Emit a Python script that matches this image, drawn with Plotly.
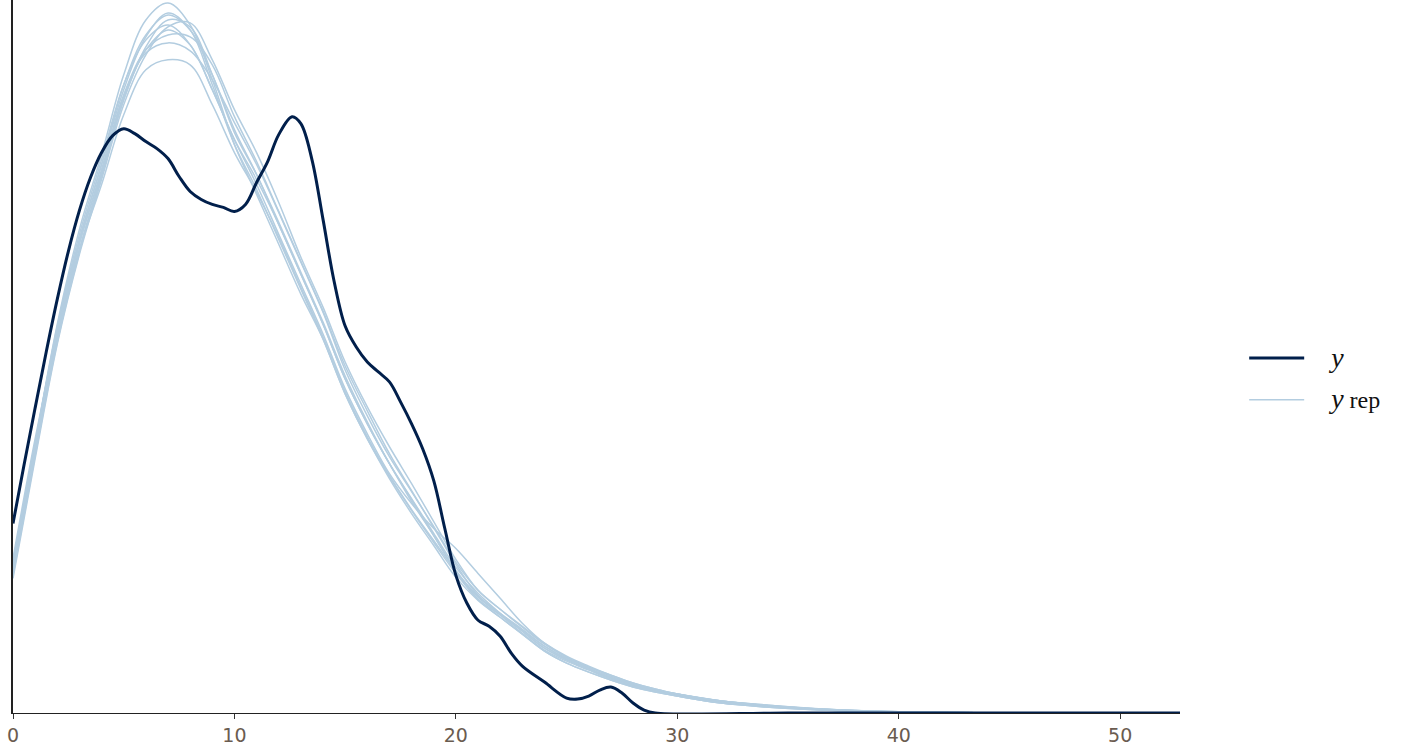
import plotly.graph_objects as go

# observed y density (x, density x1000)
x_obs = [0, 0.5, 1, 1.5, 2, 2.5, 3, 3.5, 4, 4.5, 5, 5.5, 6, 6.5, 7, 7.5, 8, 8.5, 9, 9.5, 10,
         10.5, 11, 11.5, 12, 12.6, 13, 13.5, 14, 14.5, 15, 15.5, 16, 16.5, 17, 17.5, 18,
         18.5, 19, 19.5, 20, 20.5, 21, 21.5, 22, 22.5, 23, 24, 25, 25.5, 26, 26.5, 27,
         27.5, 28, 28.5, 29, 35, 40, 45, 50, 52.7]
d_obs = [19.0, 24.9, 30.6, 36.2, 41.5, 46.3, 50.4, 53.7, 56.2, 57.9, 58.6, 58.1, 57.3, 56.6, 55.6,
         53.8, 52.3, 51.5, 51.0, 50.7, 50.3, 51.0, 53.2, 55.3, 58.0, 59.8, 59.1, 55.5, 49.5,
         43.3, 38.8, 36.7, 35.2, 34.2, 33.2, 31.2, 29.0, 26.5, 23.3, 18.5, 13.8, 11.0, 9.3,
         8.7, 7.7, 6.0, 4.7, 3.1, 1.5, 1.4, 1.7, 2.3, 2.6, 2.0, 1.0, 0.3, 0, 0, 0, 0, 0, 0]

# replicated densities (density x1000)
x_rep = list(range(0, 31)) + [32, 34, 36, 38, 40, 42, 45]
d_rep = [
    [14, 27, 39, 48.5, 56, 64, 69.5, 71.2, 69, 63.5, 57, 52, 47, 42, 37.5, 32, 27.5, 23.5, 20, 16.8,
     13.6, 11.3, 9.6, 7.9, 6.2, 5.0, 4.1, 3.3, 2.6, 2.1, 1.7, 1.0, 0.6, 0.35, 0.2, 0.1, 0.04, 0],
    [15, 27, 38.5, 47.5, 55, 63, 68, 70, 68.5, 64, 58.5, 54, 49, 44, 39, 33.5, 29, 25, 21.5, 18,
     14.6, 12, 10, 8.2, 6.5, 5.3, 4.4, 3.5, 2.8, 2.2, 1.8, 1.1, 0.7, 0.4, 0.2, 0.1, 0.05, 0],
    [13.5, 25.5, 37, 46, 53.5, 61, 66, 68.8, 69.2, 65.5, 60.5, 56.2, 51.2, 45.7, 40.7, 35.2, 30.7, 26.7, 23, 19.2,
     15.4, 12.3, 10.4, 8.6, 6.9, 5.6, 4.6, 3.7, 2.9, 2.3, 1.9, 1.2, 0.8, 0.45, 0.25, 0.12, 0.05, 0],
    [15.5, 27.5, 38, 46.5, 53, 60, 64.5, 65.5, 65, 61, 56.2, 52.2, 47.7, 42.7, 37.7, 32.2, 27.7, 23.8, 20.4, 17.3,
     14.2, 11.6, 9.9, 8.2, 6.5, 5.4, 4.4, 3.5, 2.8, 2.3, 1.9, 1.2, 0.75, 0.45, 0.25, 0.12, 0.05, 0],
    [14, 26, 37.5, 46.5, 54, 61.5, 66.5, 68.5, 67, 62.5, 57.5, 53, 48, 43, 38, 32.5, 28, 24, 21, 18.5,
     16.5, 14, 11.5, 9, 7, 5.6, 4.5, 3.6, 2.9, 2.3, 1.8, 1.1, 0.7, 0.4, 0.2, 0.1, 0.05, 0],
    [14.8, 26.8, 38.5, 47.5, 55, 62.5, 67.8, 70.2, 68.5, 63, 57, 52.5, 47.5, 42.5, 37.5, 32, 27.5, 23.7, 20.3, 17.1,
     14.0, 11.4, 9.8, 8, 6.3, 5.2, 4.3, 3.4, 2.7, 2.2, 1.7, 1.0, 0.65, 0.38, 0.2, 0.1, 0.04, 0],
    [14.2, 26.2, 37.8, 47, 54.5, 62, 66.5, 68, 67.8, 65, 59.8, 55.3, 50.3, 45.3, 40.3, 34.8, 30.3, 26, 22.3, 18.6,
     14.9, 11.8, 10.0, 8.4, 6.7, 5.4, 4.4, 3.6, 2.9, 2.3, 1.8, 1.1, 0.7, 0.42, 0.22, 0.1, 0.05, 0],
    [15.2, 27, 38.8, 48, 55.5, 63, 67.5, 69, 67, 62.5, 57.5, 53.5, 49, 44, 39, 33.5, 29, 25, 21.2, 17.8,
     14.3, 11.7, 9.9, 8.3, 6.7, 5.5, 4.6, 3.8, 3.0, 2.4, 1.9, 1.2, 0.75, 0.45, 0.25, 0.12, 0.05, 0],
    [13.8, 25.8, 37.2, 46.2, 53.8, 61.5, 66.8, 69.5, 68.8, 64, 58.2, 54, 49.2, 44.2, 39.2, 33.8, 29.2, 25, 21.4, 17.8,
     14.2, 11.4, 9.6, 7.9, 6.2, 5.0, 4.1, 3.3, 2.6, 2.1, 1.7, 1.0, 0.6, 0.35, 0.18, 0.08, 0.04, 0],
    [14.6, 26.6, 38.2, 47.2, 54.2, 61.8, 66.2, 67.2, 66.4, 63.5, 59.2, 55, 50.2, 45.2, 40.2, 34.4, 29.8, 25.7, 22.2, 18.7,
     15.1, 12.3, 10.4, 8.7, 7.0, 5.7, 4.7, 3.8, 3.0, 2.4, 1.9, 1.2, 0.8, 0.48, 0.26, 0.13, 0.06, 0],
]

x_ticks = [0, 10, 20, 30, 40, 50]

fig = go.Figure()

for i, d in enumerate(d_rep):
    fig.add_trace(go.Scatter(
        x=x_rep, y=d, mode="lines", line=dict(color="#b3cde0", width=1.5, shape="spline"),
        name="&nbsp;&nbsp;&nbsp;&nbsp;<span style='font-size:28px'><i>y</i></span>"
             "<span style='font-size:24px'> rep</span>",
        legendgroup="yrep", showlegend=(i == 0), legendrank=2, hoverinfo="skip"))

fig.add_trace(go.Scatter(
    x=x_obs, y=d_obs, mode="lines", line=dict(color="#011f4b", width=3, shape="spline"),
    name="&nbsp;&nbsp;&nbsp;&nbsp;<span style='font-size:28px'><i>y</i></span>", legendrank=1))

fig.update_layout(
    width=1417, height=746,
    margin=dict(l=13, r=237, t=0, b=31),
    plot_bgcolor="white", paper_bgcolor="white",
    legend=dict(x=1.055, y=0.468, xanchor="left", yanchor="middle",
                font=dict(family="Liberation Serif", size=22, color="#111"),
                itemwidth=55, bgcolor="rgba(0,0,0,0)"),
)
fig.update_xaxes(range=[0, 52.7], tickvals=x_ticks, showgrid=False, zeroline=False,
                 showline=True, linecolor="#222", linewidth=1.2,
                 ticks="outside", ticklen=5, tickcolor="#333",
                 tickfont=dict(family="DejaVu Sans", size=19, color="#6a5c50"))
fig.update_yaxes(range=[0, 71.5], showgrid=False, zeroline=False, showticklabels=False,
                 showline=True, linecolor="#222", linewidth=1.5, ticks="")

fig.write_html("out.html", config={"displayModeBar": False},
               post_script="document.body.style.margin='0px';")
